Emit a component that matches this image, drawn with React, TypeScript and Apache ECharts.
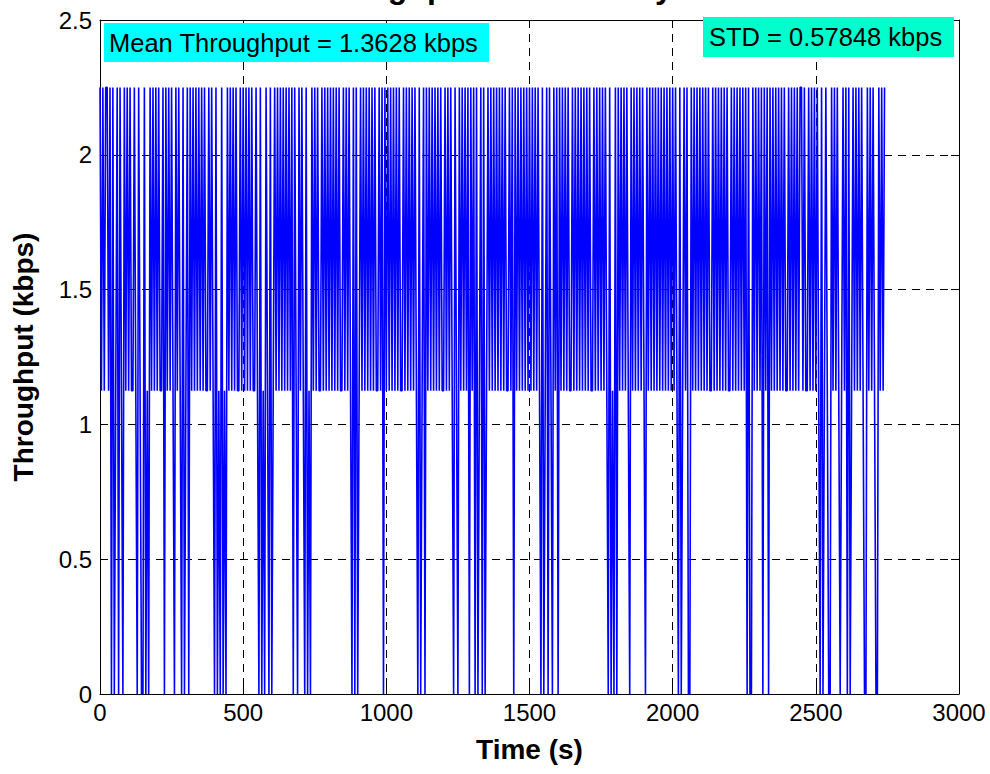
import React, { useEffect, useRef } from "react";
import * as echarts from "echarts";

// ---- texts ----
const titleText = "Throughput Achieved by Node";
const xAxisName = "Time (s)";
const yAxisName = "Throughput (kbps)";
const meanLabel = "Mean Throughput = 1.3628 kbps";
const stdLabel = "STD = 0.57848 kbps";

// ---- axes ----
const xMin = 0;
const xMax = 3000;
const xInterval = 500;
const yMin = 0;
const yMax = 2.5;
const yInterval = 0.5;

// ---- data ----
// throughput samples every 5 s; each code is a level: 0 -> 0, 1 -> 1.125, 2 -> 2.25 kbps
const sampleStep = 5;
const levelValues = [0, 1.125, 2.25];
// each string = 10 samples (50 s)
const throughputCodes = [
  "2121221202", "0120210212", "1211210210", "0201021212", "1211202121",
  "2102121020", "1202121212", "1212112121", "0201020102", "1212121121",
  "2121212112", "1020102102", "0121212121", "2121202102", "1210201021",
  "2121121212", "1212121211", "2121210202", "0121212121", "2121121202",
  "1212121212", "1121212121", "2102012021", "2121212121", "1212121021",
  "0212121202", "1202012020", "1212121212", "1212112120", "2121212121",
  "2121212102", "0120210212", "0212121211", "2121212121", "2121121212",
  "1212102010", "2021212121", "0212121212", "1021212121", "2121212121",
  "2121020121", "2002121212", "1212121121", "2121212121", "1212121212",
  "1202002121", "2120212021", "2121212121", "1212121212", "2121121212",
  "1210201210", "0212121012", "1202012121", "2121002121", "210021212",
];

const FONT = "'Liberation Sans', Arial, Helvetica, sans-serif";

export default function App() {
  const ref = useRef<HTMLDivElement>(null);

  useEffect(() => {
    if (!ref.current) return;
    const chart = echarts.init(ref.current, undefined, { renderer: "svg" });

    const codes = throughputCodes.join("").split("");
    const data = codes.map((c, i) => [i * sampleStep, levelValues[Number(c)]]);

    const axisLine = { show: true, onZero: false, lineStyle: { color: "#000", width: 1 } };
    const axisTick = { show: true, inside: true, length: 8, lineStyle: { color: "#000", width: 1 } };
    const splitLine = { show: true, lineStyle: { color: "#000", width: 1, type: [8, 6] as any } };
    const plain = (v: number) => String(v);

    const option: any = {
      animation: false,
      backgroundColor: "#ffffff",
      grid: { left: 100, top: 20, width: 859, height: 674, containLabel: false },
      xAxis: [
        {
          type: "value",
          position: "bottom",
          min: xMin,
          max: xMax,
          interval: xInterval,
          name: xAxisName,
          nameLocation: "middle",
          nameGap: 41,
          nameTextStyle: { fontSize: 28, fontWeight: "bold", color: "#000", fontFamily: FONT },
          axisLine,
          axisTick,
          axisLabel: { fontSize: 24, color: "#000", margin: 6, fontFamily: FONT, formatter: plain },
          splitLine,
        },
        {
          type: "value",
          position: "top",
          min: xMin,
          max: xMax,
          interval: xInterval,
          axisLine,
          axisTick,
          axisLabel: { show: false },
          splitLine: { show: false },
        },
      ],
      yAxis: [
        {
          type: "value",
          position: "left",
          min: yMin,
          max: yMax,
          interval: yInterval,
          name: yAxisName,
          nameLocation: "middle",
          nameGap: 63,
          nameTextStyle: { fontSize: 28, fontWeight: "bold", color: "#000", fontFamily: FONT },
          axisLine,
          axisTick,
          axisLabel: { fontSize: 24, color: "#000", margin: 8, fontFamily: FONT, formatter: plain },
          splitLine,
        },
        {
          type: "value",
          position: "right",
          min: yMin,
          max: yMax,
          interval: yInterval,
          axisLine,
          axisTick,
          axisLabel: { show: false },
          splitLine: { show: false },
        },
      ],
      series: [
        {
          type: "line",
          xAxisIndex: 0,
          yAxisIndex: 0,
          data,
          showSymbol: false,
          symbol: "none",
          silent: true,
          lineStyle: { color: "#0000ff", width: 1.6 },
          itemStyle: { color: "#0000ff" },
        },
      ],
      graphic: [
        {
          type: "text",
          x: 529.5,
          y: -13.5,
          z: 100,
          style: {
            text: titleText,
            fontSize: 32,
            fontWeight: "bold",
            fontFamily: FONT,
            fill: "#000",
            align: "center",
            verticalAlign: "middle",
          },
        },
        {
          type: "rect",
          z: 100,
          shape: { x: 104, y: 23, width: 385, height: 39 },
          style: { fill: "#00ffff" },
        },
        {
          type: "text",
          x: 109,
          y: 42.5,
          z: 101,
          style: {
            text: meanLabel,
            fontSize: 25.5,
            fontFamily: FONT,
            fill: "#000",
            align: "left",
            verticalAlign: "middle",
          },
        },
        {
          type: "rect",
          z: 100,
          shape: { x: 703, y: 17, width: 251, height: 40 },
          style: { fill: "#00ffcc" },
        },
        {
          type: "text",
          x: 709,
          y: 37,
          z: 101,
          style: {
            text: stdLabel,
            fontSize: 25.5,
            fontFamily: FONT,
            fill: "#000",
            align: "left",
            verticalAlign: "middle",
          },
        },
      ],
    };

    chart.setOption(option);
    return () => chart.dispose();
  }, []);

  return (
    <div
      ref={ref}
      style={{ position: "absolute", left: 0, top: 0, width: 990, height: 774, background: "#fff" }}
    />
  );
}
